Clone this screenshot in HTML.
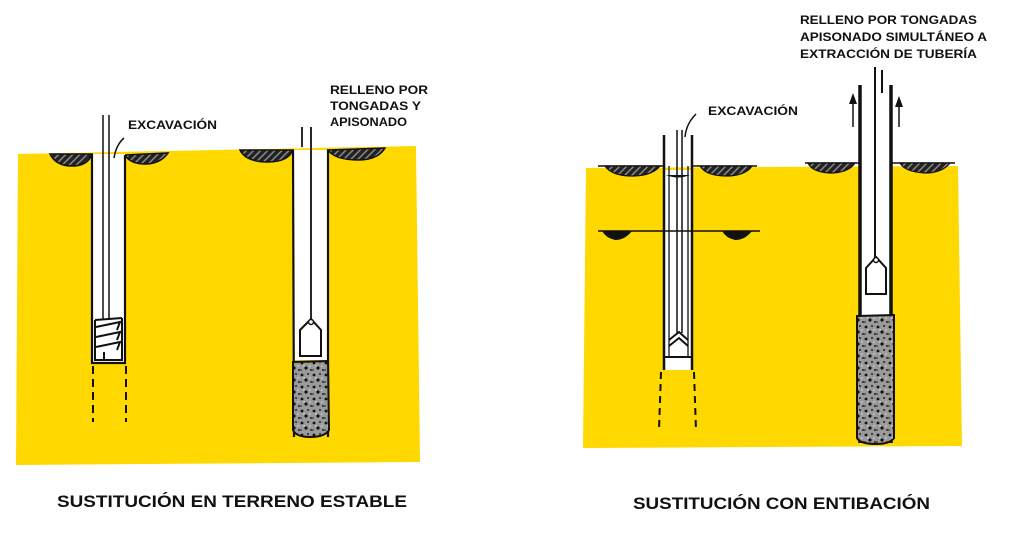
<!DOCTYPE html>
<html><head><meta charset="utf-8"><style>
html,body{margin:0;padding:0;background:#fff;}
svg{display:block}
text{font-family:"Liberation Sans",sans-serif;font-weight:bold;fill:#111}
</style></head><body>
<svg width="1024" height="536" viewBox="0 0 1024 536" xmlns="http://www.w3.org/2000/svg">
<defs>
<pattern id="fill" width="12" height="12" patternUnits="userSpaceOnUse">
<rect width="12" height="12" fill="#9a9a9a"/>
<circle cx="2" cy="3" r="1.4" fill="#111"/><circle cx="8" cy="2" r="1" fill="#222"/>
<circle cx="6" cy="8" r="1.6" fill="#111"/><circle cx="11" cy="10" r="1" fill="#222"/>
<circle cx="1" cy="10" r="0.9" fill="#333"/><circle cx="4" cy="6" r="0.7" fill="#eee"/>
<circle cx="10" cy="6" r="0.8" fill="#ddd"/>
</pattern>
<pattern id="hatch" width="5" height="5" patternUnits="userSpaceOnUse" patternTransform="rotate(45)">
<rect width="5" height="5" fill="#222"/><rect width="1.5" height="5" fill="#888"/>
</pattern>
</defs>
<!-- yellow blocks -->
<path d="M18,154 L416,146 L420,462 L16,465 Z" fill="#ffd800"/>
<path d="M586,168 L958,166 L962,446 L583,448 Z" fill="#ffd800"/>

<!-- LEFT: hole 1 -->
<path d="M50,154 L92,154 Q88,166 72,166 Q56,166 50,154 Z" fill="url(#hatch)" stroke="#111" stroke-width="1.5"/>
<path d="M125,155 L168,153 Q160,164 145,164 Q130,164 125,155 Z" fill="url(#hatch)" stroke="#111" stroke-width="1.5"/>
<rect x="92" y="154" width="33" height="209" fill="#fff"/>
<path d="M92,154 L92,363 L125,363 L125,155" fill="none" stroke="#111" stroke-width="2.2"/>
<line x1="103" y1="115" x2="103" y2="320" stroke="#111" stroke-width="1.5"/>
<line x1="109" y1="115" x2="109" y2="320" stroke="#111" stroke-width="1.5"/>
<path d="M95,320 L122,318 M95,320 L95,360 L122,360 L122,318 M96,327 L120,322 L117,330 M96,337 L120,332 L117,340 M96,347 L120,342 L117,350 M104,352 L104,360" fill="none" stroke="#111" stroke-width="2"/>
<line x1="93" y1="366" x2="93" y2="422" stroke="#111" stroke-width="2" stroke-dasharray="8,5"/>
<line x1="126" y1="366" x2="126" y2="422" stroke="#111" stroke-width="2" stroke-dasharray="8,5"/>
<path d="M114,158 Q116,145 124,138" fill="none" stroke="#111" stroke-width="1.5"/>
<text x="128" y="129" font-size="12" textLength="89" lengthAdjust="spacingAndGlyphs">EXCAVACIÓN</text>

<!-- LEFT: hole 2 -->
<path d="M240,150 L293,150 Q288,162 268,162 Q246,162 240,150 Z" fill="url(#hatch)" stroke="#111" stroke-width="1.5"/>
<path d="M328,150 L385,148 Q378,160 358,160 Q335,160 328,150 Z" fill="url(#hatch)" stroke="#111" stroke-width="1.5"/>
<rect x="293" y="150" width="35" height="210" fill="#fff"/>
<line x1="293" y1="150" x2="294" y2="437" stroke="#111" stroke-width="2.2"/>
<line x1="328" y1="150" x2="328" y2="437" stroke="#111" stroke-width="2.2"/>
<line x1="302" y1="127" x2="302" y2="147" stroke="#111" stroke-width="1.8"/>
<line x1="311" y1="127" x2="311" y2="320" stroke="#111" stroke-width="1.8"/>
<path d="M300,330 L311,319 L321,330 L321,356 L300,356 Z" fill="#fff" stroke="#111" stroke-width="2"/>
<circle cx="311" cy="322" r="2.5" fill="#fff" stroke="#111" stroke-width="1.5"/>
<path d="M293,362 L328,361 L329,430 Q325,437 310,437 Q296,437 293,430 Z" fill="url(#fill)" stroke="#111" stroke-width="2"/>
<text font-size="12" x="330" y="94" textLength="98" lengthAdjust="spacingAndGlyphs">RELLENO POR</text>
<text font-size="12" x="330" y="110" textLength="91" lengthAdjust="spacingAndGlyphs">TONGADAS Y</text>
<text font-size="12" x="330" y="126" textLength="77" lengthAdjust="spacingAndGlyphs">APISONADO</text>

<!-- RIGHT: hole 3 -->
<line x1="598" y1="166" x2="663" y2="166" stroke="#111" stroke-width="1.5"/>
<line x1="692" y1="166" x2="757" y2="166" stroke="#111" stroke-width="1.5"/>
<path d="M605,166 L660,166 Q652,176 632,176 Q612,176 605,166 Z" fill="url(#hatch)" stroke="#111" stroke-width="1.2"/>
<path d="M700,166 L752,166 Q745,176 726,176 Q706,176 700,166 Z" fill="url(#hatch)" stroke="#111" stroke-width="1.2"/>
<rect x="664" y="170" width="28" height="200" fill="#fff"/>
<line x1="664" y1="135" x2="664" y2="370" stroke="#111" stroke-width="2.5"/>
<line x1="692" y1="135" x2="692" y2="370" stroke="#111" stroke-width="2.5"/>
<line x1="669" y1="166" x2="669" y2="357" stroke="#111" stroke-width="1.3"/>
<line x1="688" y1="166" x2="688" y2="357" stroke="#111" stroke-width="1.3"/>
<line x1="677" y1="130" x2="677" y2="333" stroke="#111" stroke-width="1.5"/>
<line x1="682" y1="130" x2="682" y2="333" stroke="#111" stroke-width="1.5"/>
<path d="M666,175 L690,175 Q678,180 666,175 Z" fill="#111"/>
<path d="M669,340 L679,332 L688,340 M669,346 L679,338 L688,346" fill="none" stroke="#111" stroke-width="2"/>
<line x1="664" y1="357" x2="692" y2="357" stroke="#111" stroke-width="2"/>
<line x1="598" y1="231" x2="760" y2="231" stroke="#111" stroke-width="1.5"/>
<path d="M602,231 L632,231 Q625,240 615,240 Q606,238 602,231 Z" fill="#111"/>
<path d="M722,231 L752,231 Q745,240 735,240 Q726,238 722,231 Z" fill="#111"/>
<line x1="661" y1="372" x2="659" y2="430" stroke="#111" stroke-width="2" stroke-dasharray="7,5"/>
<line x1="694" y1="372" x2="696" y2="430" stroke="#111" stroke-width="2" stroke-dasharray="7,5"/>
<path d="M685,137 Q686,124 696,114" fill="none" stroke="#111" stroke-width="1.5"/>
<text x="708" y="115" font-size="12" textLength="90" lengthAdjust="spacingAndGlyphs">EXCAVACIÓN</text>

<!-- RIGHT: hole 4 -->
<line x1="805" y1="163" x2="860" y2="163" stroke="#111" stroke-width="1.5"/>
<line x1="892" y1="163" x2="955" y2="163" stroke="#111" stroke-width="1.5"/>
<path d="M808,163 L855,163 Q848,173 830,173 Q812,172 808,163 Z" fill="url(#hatch)" stroke="#111" stroke-width="1.2"/>
<path d="M900,163 L950,163 Q942,173 925,173 Q905,172 900,163 Z" fill="url(#hatch)" stroke="#111" stroke-width="1.2"/>
<rect x="860" y="86" width="31" height="232" fill="#fff"/>
<line x1="860" y1="85" x2="860" y2="443" stroke="#111" stroke-width="3.5"/>
<line x1="891" y1="85" x2="891" y2="443" stroke="#111" stroke-width="3.5"/>
<line x1="875" y1="67" x2="875" y2="262" stroke="#111" stroke-width="2"/>
<line x1="882" y1="70" x2="882" y2="93" stroke="#111" stroke-width="2"/>
<path d="M866,268 L876,257 L886,268 L886,294 L866,294 Z" fill="#fff" stroke="#111" stroke-width="2"/>
<circle cx="876" cy="260" r="2.5" fill="#fff" stroke="#111" stroke-width="1.5"/>
<path d="M857,316 L894,315 L894,438 Q890,444 876,444 Q860,444 857,438 Z" fill="url(#fill)" stroke="#111" stroke-width="2"/>
<line x1="853" y1="100" x2="853" y2="127" stroke="#111" stroke-width="1.5"/>
<path d="M849,104 L853,93 L857,104 Z" fill="#111"/>
<line x1="899" y1="103" x2="899" y2="127" stroke="#111" stroke-width="1.5"/>
<path d="M895,107 L899,96 L903,107 Z" fill="#111"/>
<text font-size="12" x="800" y="24" textLength="177" lengthAdjust="spacingAndGlyphs">RELLENO POR TONGADAS</text>
<text font-size="12" x="800" y="41" textLength="187" lengthAdjust="spacingAndGlyphs">APISONADO SIMULTÁNEO A</text>
<text font-size="12" x="800" y="58" textLength="177" lengthAdjust="spacingAndGlyphs">EXTRACCIÓN DE TUBERÍA</text>

<!-- captions -->
<text x="57" y="507" font-size="17" textLength="350" lengthAdjust="spacingAndGlyphs">SUSTITUCIÓN EN TERRENO ESTABLE</text>
<text x="633" y="509" font-size="17" textLength="297" lengthAdjust="spacingAndGlyphs">SUSTITUCIÓN CON ENTIBACIÓN</text>
</svg>
</body></html>
